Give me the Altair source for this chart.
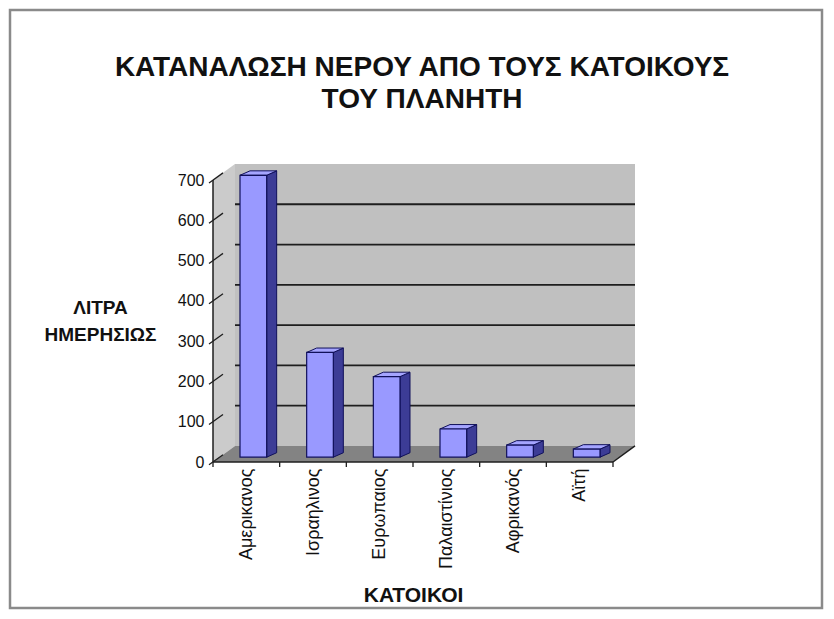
import json
import altair as alt
import pandas as pd

# ---- data ----
categories = ["Αμερικανος", "Ισραηλινος", "Ευρωπαιος", "Παλαιστίνιος", "Αφρικανός", "Αϊτή"]
litres = [700, 260, 200, 70, 30, 20]
y_ticks = [0, 100, 200, 300, 400, 500, 600, 700]
title_lines = ["ΚΑΤΑΝΑΛΩΣΗ ΝΕΡΟΥ ΑΠΟ ΤΟΥΣ ΚΑΤΟΙΚΟΥΣ", "ΤΟΥ ΠΛΑΝΗΤΗ"]
y_title = ["ΛΙΤΡΑ", "ΗΜΕΡΗΣΙΩΣ"]
x_title = "ΚΑΤΟΙΚΟΙ"

FONT = "Liberation Sans"

# ---- pseudo-3D geometry (data units) ----
N = len(categories)
Y_MAX = max(y_ticks)
DEPTH_X = 0.33          # depth of floor, in category units
DEPTH_Y = 40            # depth of floor, in litres
BAR_L, BAR_R = 0.3, 0.7
FACE_DX, FACE_DY = 0.105, 12
SIDE_DX, SIDE_DY = 0.15, 11

# whole framed view, plot region placed inside it through the scale ranges
W, H = 812, 598
PX0, PX1 = 203, 625     # front-left axis .. back-right wall
PY0, PY1 = 452, 154     # floor front .. top of back wall
xs = alt.Scale(domain=[0, N + DEPTH_X], range=[PX0, PX1], nice=False, zero=False)
ys = alt.Scale(domain=[0, Y_MAX + DEPTH_Y], range=[PY0, PY1], nice=False, zero=False)


def X(f, axis=None):
    if axis is None:
        return alt.X(f"{f}:Q", scale=xs, stack=None)
    return alt.X(f"{f}:Q", scale=xs, axis=axis, stack=None)


def Y(f, axis=None):
    if axis is None:
        return alt.Y(f"{f}:Q", scale=ys, stack=None)
    return alt.Y(f"{f}:Q", scale=ys, axis=axis, stack=None)


front = pd.DataFrame({
    "cat": categories,
    "x0": [i + BAR_L + FACE_DX for i in range(N)],
    "x1": [i + BAR_R + FACE_DX for i in range(N)],
    "y0": [FACE_DY] * N,
    "y1": [v + FACE_DY for v in litres],
})
side_rows, top_rows = [], []
for i, (c, v) in enumerate(zip(categories, litres)):
    xr = i + BAR_R + FACE_DX
    xl = i + BAR_L + FACE_DX
    side_rows.append({"cat": c, "x": xr, "lo": FACE_DY, "hi": v + FACE_DY})
    side_rows.append({"cat": c, "x": xr + SIDE_DX, "lo": FACE_DY + SIDE_DY, "hi": v + FACE_DY + SIDE_DY})
    top_rows.append({"cat": c, "y": v + FACE_DY, "lo": xl, "hi": xr})
    top_rows.append({"cat": c, "y": v + FACE_DY + SIDE_DY, "lo": xl + SIDE_DX, "hi": xr + SIDE_DX})
side = pd.DataFrame(side_rows)
top = pd.DataFrame(top_rows)

back_wall = pd.DataFrame({"x0": [DEPTH_X], "x1": [N + DEPTH_X], "y0": [DEPTH_Y], "y1": [Y_MAX + DEPTH_Y]})
left_wall = pd.DataFrame({"x": [0, DEPTH_X], "lo": [0, DEPTH_Y], "hi": [Y_MAX, Y_MAX + DEPTH_Y]})
floor = pd.DataFrame({"y": [0, DEPTH_Y], "lo": [0, DEPTH_X], "hi": [N, N + DEPTH_X]})
grid = pd.DataFrame({"x0": DEPTH_X, "x1": N + DEPTH_X, "y": [t + DEPTH_Y for t in y_ticks[1:-1]]})
diag = pd.DataFrame({"a": [t - 7 for t in y_ticks], "b": [t + 18 for t in y_ticks]})
edges = pd.DataFrame({
    "x0": [0, N, 0], "x1": [N, N + DEPTH_X, 0],
    "y0": [0, 0, 0], "y1": [0, DEPTH_Y, Y_MAX],
})
bounds = pd.DataFrame({"b": list(range(N + 1))})

label_expr = json.dumps(categories, ensure_ascii=False) + "[floor(datum.value)]"

y_axis = alt.Axis(
    values=y_ticks, domain=False, ticks=False, grid=False, offset=-PX0,
    labelFontSize=16, labelFont=FONT, labelColor="#111", labelPadding=9,
    title=y_title, titleAngle=0, titleFont=FONT, titleFontSize=19,
    titleFontWeight="bold", titleColor="#111", titleAlign="center",
    titleBaseline="middle", titleX=-113, titleY=297, titleLineHeight=27,
)
x_axis = alt.Axis(
    values=[i + 0.5 for i in range(N)], labelExpr=label_expr,
    domain=False, ticks=False, grid=False, labelAngle=-90, offset=-(H - PY0),
    labelFont=FONT, labelFontSize=18, labelColor="#111", labelPadding=6,
    title=x_title, titleFont=FONT, titleFontSize=21, titleFontWeight="bold",
    titleColor="#111", titleX=PX0 + 200, titleY=133, titleBaseline="middle",
)

wall = alt.Chart(back_wall).mark_rect(color="#c0c0c0").encode(
    x=X("x0", x_axis), x2="x1", y=Y("y0", y_axis), y2="y1")
lwall = alt.Chart(left_wall).mark_area(color="#cbcbcb", orient="vertical").encode(
    x=X("x"), y=Y("lo"), y2="hi")
flr = alt.Chart(floor).mark_area(color="#838383", orient="horizontal").encode(
    y=Y("y"), x=X("lo"), x2="hi")
gridl = alt.Chart(grid).mark_rule(color="#1e1e1e", strokeWidth=1.8).encode(
    x=X("x0"), x2="x1", y=Y("y"))
diagl = alt.Chart(diag).mark_rule(color="#1e1e1e", strokeWidth=1.3).encode(
    x=alt.value(PX0 - 4), x2=alt.value(PX0 + 10), y=Y("a"), y2="b")
edge = alt.Chart(edges).mark_rule(color="#1e1e1e", strokeWidth=1.5).encode(
    x=X("x0"), x2="x1", y=Y("y0"), y2="y1")
xticks = alt.Chart(bounds).mark_rule(color="#1e1e1e", strokeWidth=1.3).encode(
    x=X("b"), y=alt.value(PY0), y2=alt.value(PY0 + 5))

sides = alt.Chart(side).mark_area(color="#3c3c96", stroke="#10105a", strokeWidth=1, orient="vertical").encode(
    x=X("x"), y=Y("lo"), y2="hi", detail="cat:N")
tops = alt.Chart(top).mark_area(color="#a5a5ff", stroke="#10105a", strokeWidth=1, orient="horizontal").encode(
    y=Y("y"), x=X("lo"), x2="hi", detail="cat:N")
fronts = alt.Chart(front).mark_rect(color="#9999ff", stroke="#10105a", strokeWidth=1.2).encode(
    x=X("x0"), x2="x1", y=Y("y0"), y2="y1")

chart = alt.layer(
    wall, gridl, lwall, flr, diagl, edge, xticks, sides, tops, fronts
).properties(
    width=W, height=H,
    background="white",
    autosize=alt.AutoSizeParams(type="none"),
    padding={"left": 2, "top": 2, "right": 2, "bottom": 2},
    title=alt.TitleParams(
        text=title_lines, font=FONT, fontSize=28, fontWeight="bold", color="#111",
        anchor="middle", frame="group", offset=-104, lineHeight=32, baseline="top",
        dx=6,
    ),
).configure_axis(
    grid=False, domain=False, ticks=False
).configure_view(stroke="#8a8a8a", strokeWidth=2.5)

chart.save("out.html", embed_options={"renderer": "svg", "actions": False})
